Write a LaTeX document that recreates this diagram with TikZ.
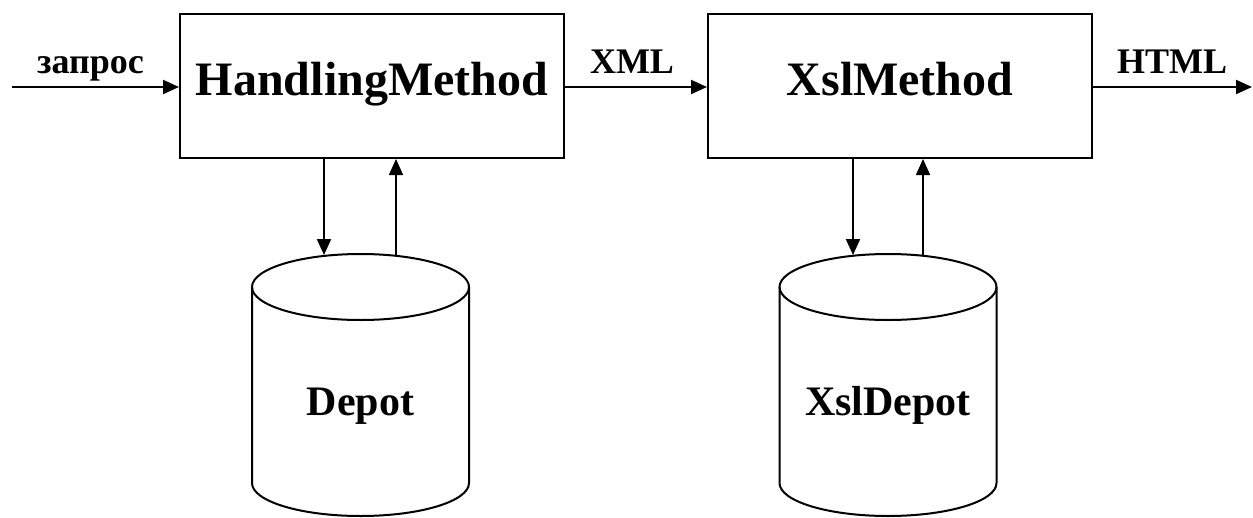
\documentclass[tikz,border=0pt]{standalone}
\usepackage{fontspec}
\setmainfont{Liberation Serif}
\usetikzlibrary{arrows.meta}

\tikzset{
  method/.style={draw, line width=2pt, rectangle, inner sep=0pt,
    minimum width=384pt, minimum height=144pt,
    font=\bfseries\fontsize{48}{56}\selectfont,
    text height=33pt, text depth=14pt},
  flow/.style={line width=2pt, -{Triangle[length=16pt,width=14pt]}},
  tag/.style={anchor=base, inner sep=0pt, font=\bfseries\fontsize{36}{42}\selectfont},
  store/.style={line width=2pt},
  storetext/.style={anchor=base, inner sep=0pt, font=\bfseries\fontsize{42}{48}\selectfont}
}

% database drum: centre x, top ellipse centre y, body bottom y
\newcommand{\drum}[3]{%
  \draw[store] (#1,#2) ellipse [x radius=108.5pt, y radius=33pt];
  \draw[store] (#1-108.5,#2) -- (#1-108.5,#3)
    arc[start angle=180, end angle=360, x radius=108.5pt, y radius=33pt]
    -- (#1+108.5,#2);
}

\begin{document}
\begin{tikzpicture}[x=1pt,y=-1pt]
  \useasboundingbox (0,0) rectangle (1253,517);

  % processing stages
  \node[method] (hm) at (372,86) {HandlingMethod};
  \node[method] (xm) at (900,86) {XslMethod};

  % storages
  \drum{360.5}{287}{483}
  \drum{888}{287}{483}
  \node[storetext] (dep) at (360.5,415) {Depot};
  \node[storetext] (xdep) at (888,415) {XslDepot};

  % flow endpoints
  \coordinate (in) at (12,87);
  \coordinate (out) at (1252,87);
  \coordinate (d1) at (324,255);
  \coordinate (u1) at (396,255);
  \coordinate (d2) at (853,255);
  \coordinate (u2) at (923,255);

  % main flow
  \draw[flow] (in) -- (in -| hm.west);
  \draw[flow] (hm.east |- in) -- (xm.west |- in);
  \draw[flow] (xm.east |- in) -- (out);

  \node[tag] (req) at (90.5,73) {запрос};
  \node[tag] (xml) at (632,73) {XML};
  \node[tag] (html) at (1172,73) {HTML};

  % storage access
  \draw[flow] (hm.south -| d1) -- (d1);
  \draw[flow, line width=1.6pt] (u1) -- (hm.south -| u1);
  \draw[flow] (xm.south -| d2) -- (d2);
  \draw[flow, line width=1.6pt] (u2) -- (xm.south -| u2);
\end{tikzpicture}
\end{document}
